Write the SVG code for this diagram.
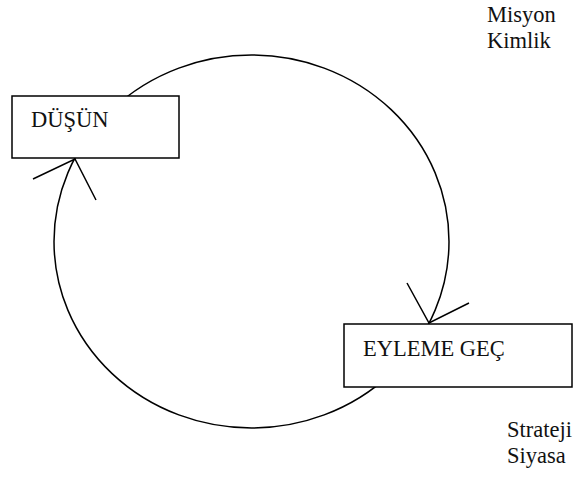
<svg xmlns="http://www.w3.org/2000/svg" width="576" height="477" viewBox="0 0 576 477">
  <style>
    .line { fill: none; stroke: #000; stroke-width: 1.5; }
    .box { fill: #fff; stroke: #000; stroke-width: 1.5; }
    .label { font-family: "Liberation Serif", "Times New Roman", serif; font-size: 22.5px; fill: #111; }
  </style>
  <rect width="576" height="477" fill="#fff"/>
  <!-- cycle connector with its two open arrowheads -->
  <g id="connectors">
    <ellipse class="line" cx="251.5" cy="241.5" rx="197.5" ry="186.5"/>
    <polyline class="line" points="33,179 75,159 96,200"/>
    <polyline class="line" points="407,283 429,323 469,303"/>
  </g>
  <g id="dusun">
    <rect class="box" x="12" y="96" width="167" height="62"/>
    <text class="label" x="31" y="127">DÜŞÜN</text>
  </g>
  <g id="eyleme-gec">
    <rect class="box" x="344" y="324" width="228" height="63"/>
    <text class="label" x="363" y="356">EYLEME GEÇ</text>
  </g>
  <g id="misyon-kimlik">
    <text class="label" x="487" y="22">Misyon</text>
    <text class="label" x="487" y="48">Kimlik</text>
  </g>
  <g id="strateji-siyasa">
    <text class="label" x="507" y="437">Strateji</text>
    <text class="label" x="507" y="463">Siyasa</text>
  </g>
</svg>
